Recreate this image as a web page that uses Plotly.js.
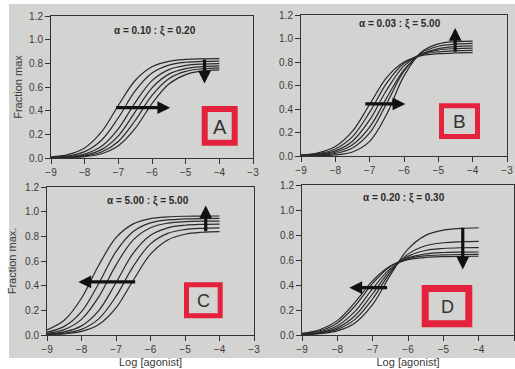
<!DOCTYPE html>
<html>
<head>
<meta charset="utf-8">
<script src="https://cdn.plot.ly/plotly-3.0.1.min.js"></script>
<style>
  html, body { margin: 0; padding: 0; background: #ffffff; }
  #chart { width: 515px; height: 369px; }
</style>
</head>
<body>
<div id="chart"></div>
<script>
// ---- data ----
const xLog = [-9, -8.5, -8, -7.5, -7, -6.5, -6, -5.5, -5, -4.5, -4];

// Panel A (alpha 0.10 : xi 0.20) - curves shift right, max falls
const curvesA = [
  [0.009, 0.029, 0.085, 0.220, 0.444, 0.655, 0.771, 0.817, 0.833, 0.838, 0.839],
  [0.006, 0.018, 0.054, 0.150, 0.340, 0.567, 0.718, 0.785, 0.809, 0.816, 0.819],
  [0.004, 0.011, 0.034, 0.099, 0.247, 0.468, 0.654, 0.747, 0.782, 0.794, 0.798],
  [0.002, 0.008, 0.024, 0.071, 0.187, 0.390, 0.593, 0.709, 0.756, 0.772, 0.778],
  [0.002, 0.005, 0.017, 0.051, 0.140, 0.317, 0.529, 0.670, 0.732, 0.754, 0.762],
  [0.001, 0.004, 0.012, 0.036, 0.103, 0.250, 0.460, 0.625, 0.705, 0.735, 0.745]
];
// Panel B (alpha 0.03 : xi 5.00) - curves shift right, max rises
const curvesB = [
  [0.009, 0.027, 0.080, 0.211, 0.440, 0.669, 0.800, 0.853, 0.871, 0.877, 0.879],
  [0.006, 0.020, 0.060, 0.165, 0.373, 0.622, 0.789, 0.861, 0.887, 0.896, 0.899],
  [0.005, 0.014, 0.044, 0.126, 0.307, 0.564, 0.767, 0.865, 0.902, 0.914, 0.918],
  [0.003, 0.010, 0.032, 0.095, 0.246, 0.497, 0.733, 0.863, 0.914, 0.932, 0.937],
  [0.002, 0.006, 0.021, 0.068, 0.196, 0.450, 0.722, 0.876, 0.934, 0.952, 0.958],
  [0.001, 0.002, 0.009, 0.034, 0.124, 0.358, 0.682, 0.883, 0.954, 0.973, 0.978]
];
// Panel C (alpha 5.00 : xi 5.00) - curves shift left, max rises
const curvesC = [
  [0.041, 0.119, 0.298, 0.565, 0.789, 0.901, 0.944, 0.958, 0.963, 0.964, 0.965],
  [0.023, 0.070, 0.190, 0.418, 0.676, 0.839, 0.909, 0.933, 0.941, 0.944, 0.945],
  [0.014, 0.044, 0.127, 0.309, 0.567, 0.771, 0.870, 0.907, 0.919, 0.923, 0.924],
  [0.008, 0.025, 0.074, 0.198, 0.424, 0.664, 0.809, 0.869, 0.890, 0.897, 0.899],
  [0.005, 0.015, 0.046, 0.131, 0.313, 0.557, 0.739, 0.824, 0.855, 0.865, 0.868],
  [0.003, 0.009, 0.029, 0.085, 0.220, 0.444, 0.655, 0.771, 0.817, 0.833, 0.838]
];
// Panel D (alpha 0.20 : xi 0.30) - curves shift left, max falls
const curvesD = [
  [0.003, 0.011, 0.033, 0.096, 0.245, 0.479, 0.687, 0.797, 0.839, 0.853, 0.858],
  [0.005, 0.015, 0.045, 0.125, 0.290, 0.500, 0.647, 0.714, 0.738, 0.746, 0.749],
  [0.006, 0.019, 0.057, 0.154, 0.330, 0.517, 0.629, 0.676, 0.692, 0.698, 0.699],
  [0.008, 0.025, 0.074, 0.189, 0.371, 0.531, 0.616, 0.649, 0.660, 0.663, 0.664],
  [0.011, 0.034, 0.097, 0.232, 0.413, 0.548, 0.611, 0.634, 0.641, 0.644, 0.645],
  [0.014, 0.042, 0.115, 0.261, 0.435, 0.552, 0.603, 0.621, 0.627, 0.629, 0.630]
];

const panelTitles = ['α = 0.10 : ξ = 0.20', 'α = 0.03 : ξ = 5.00', 'α = 5.00 : ξ = 5.00', 'α = 0.20 : ξ = 0.30'];
const panelLetters = ['A', 'B', 'C', 'D'];
const xTickVals = [-9, -8, -7, -6, -5, -4, -3];
const yTickVals = [0, 0.2, 0.4, 0.6, 0.8, 1.0, 1.2];
const yTitles = ['Fraction max', '', 'Fraction max.', ''];
const xTitles = ['', '', 'Log [agonist]', 'Log [agonist]'];

// ---- drawing ----
const W = 515, H = 369;
const px = v => v / W;
const py = v => 1 - v / H;
const FONT = 'Liberation Sans, Arial, Helvetica, sans-serif';
const INK = '#2a2a2a';

const allCurves = [curvesA, curvesB, curvesC, curvesD];
const axSuffix = ['', '2', '3', '4'];
const traces = [];
allCurves.forEach((set, p) => {
  set.forEach(ys => {
    traces.push({
      type: 'scatter', mode: 'lines', x: xLog, y: ys,
      xaxis: 'x' + axSuffix[p], yaxis: 'y' + axSuffix[p],
      line: { color: INK, width: 1.2, shape: 'spline', smoothing: 1 },
      hoverinfo: 'skip', showlegend: false
    });
  });
});

// plot boxes in pixels: [left, right, top, bottom]
const boxes = [[51, 253, 16, 158], [301, 507, 15, 156], [47, 254, 187, 335], [302, 514, 185, 335]];
const yTitleStandoff = [4, 0, 6, 0];

function xAxis(i) {
  const b = boxes[i];
  return {
    domain: [px(b[0]), px(b[1])], anchor: 'y' + axSuffix[i],
    range: [-9, -3], tickvals: xTickVals, ticks: 'outside', ticklen: 5, tickwidth: 1,
    tickcolor: '#333', showline: true, mirror: true, linecolor: '#333', linewidth: 1,
    showgrid: false, zeroline: false, fixedrange: true,
    tickfont: { family: FONT, size: 10, color: '#3a3a3a' },
    title: { text: xTitles[i], font: { family: FONT, size: 11, color: '#3a3a3a' }, standoff: 4 }
  };
}
function yAxis(i) {
  const b = boxes[i];
  return {
    domain: [py(b[3]), py(b[2])], anchor: 'x' + axSuffix[i],
    range: [0, 1.2], tickvals: yTickVals, tickformat: '.1f', ticks: 'outside', ticklen: 5, tickwidth: 1,
    tickcolor: '#333', showline: true, mirror: true, linecolor: '#333', linewidth: 1,
    showgrid: false, zeroline: false, fixedrange: true,
    tickfont: { family: FONT, size: 10, color: '#3a3a3a' },
    title: { text: yTitles[i], font: { family: FONT, size: 11, color: '#3a3a3a' }, standoff: yTitleStandoff[i] }
  };
}

const RED = '#e5223e';
const shapes = [
  { type: 'rect', xref: 'paper', yref: 'paper', x0: px(9), x1: px(515), y0: py(358), y1: py(4),
    fillcolor: '#d3d3d1', line: { width: 0 }, layer: 'below' },
  // red label boxes [left, right, top, bottom, width]
  ...[[204.7, 234.7, 109, 142.7, 6], [441.5, 477.5, 105.8, 136.5, 5],
      [186.5, 220.2, 284.8, 315.8, 5], [425.2, 468.8, 288.5, 323.8, 7]].map(r => ({
    type: 'rect', xref: 'paper', yref: 'paper', x0: px(r[0]), x1: px(r[1]), y0: py(r[3]), y1: py(r[2]),
    line: { color: RED, width: r[4] }, fillcolor: 'rgba(0,0,0,0)', layer: 'above'
  }))
];

const annotations = [];
// panel titles
[[155, 31], [400, 24], [148, 201], [404, 198]].forEach((c, i) => {
  annotations.push({ xref: 'paper', yref: 'paper', x: px(c[0]), y: py(c[1]), xanchor: 'center', yanchor: 'middle',
    text: '<b>' + panelTitles[i] + '</b>', showarrow: false, font: { family: FONT, size: 10, color: '#2a2a2a' } });
});
// panel letters
[[219.7, 126.5, 20], [459.5, 121, 19], [203.4, 300.5, 18], [447, 306.5, 18]].forEach((c, i) => {
  annotations.push({ xref: 'paper', yref: 'paper', x: px(c[0]), y: py(c[1]), xanchor: 'center', yanchor: 'middle',
    text: panelLetters[i], showarrow: false, font: { family: FONT, size: c[2], color: '#333' } });
});
// arrows: [panel, tailX, tailY, tipX, tipY]
[[0, -7.11, 0.425, -5.46, 0.425], [0, -4.44, 0.845, -4.44, 0.63],
 [1, -7.17, 0.443, -5.96, 0.443], [1, -4.51, 0.875, -4.51, 1.09],
 [2, -6.40, 0.43, -8.09, 0.43], [2, -4.40, 0.83, -4.40, 1.05],
 [3, -6.55, 0.379, -7.66, 0.379], [3, -4.45, 0.87, -4.45, 0.525]].forEach(a => {
  const s = axSuffix[a[0]];
  annotations.push({ xref: 'x' + s, yref: 'y' + s, axref: 'x' + s, ayref: 'y' + s,
    x: a[3], y: a[4], ax: a[1], ay: a[2], text: '', showarrow: true,
    arrowhead: 2, arrowsize: 0.8, arrowwidth: 3.2, arrowcolor: '#111', standoff: 0 });
});

const layout = {
  width: W, height: H, margin: { l: 0, r: 0, t: 0, b: 0 },
  paper_bgcolor: '#ffffff', plot_bgcolor: 'rgba(0,0,0,0)',
  font: { family: FONT, color: '#333' }, showlegend: false,
  xaxis: xAxis(0), yaxis: yAxis(0), xaxis2: xAxis(1), yaxis2: yAxis(1),
  xaxis3: xAxis(2), yaxis3: yAxis(2), xaxis4: xAxis(3), yaxis4: yAxis(3),
  shapes: shapes, annotations: annotations
};

Plotly.newPlot('chart', traces, layout, { displayModeBar: false, staticPlot: true });
</script>
</body>
</html>
